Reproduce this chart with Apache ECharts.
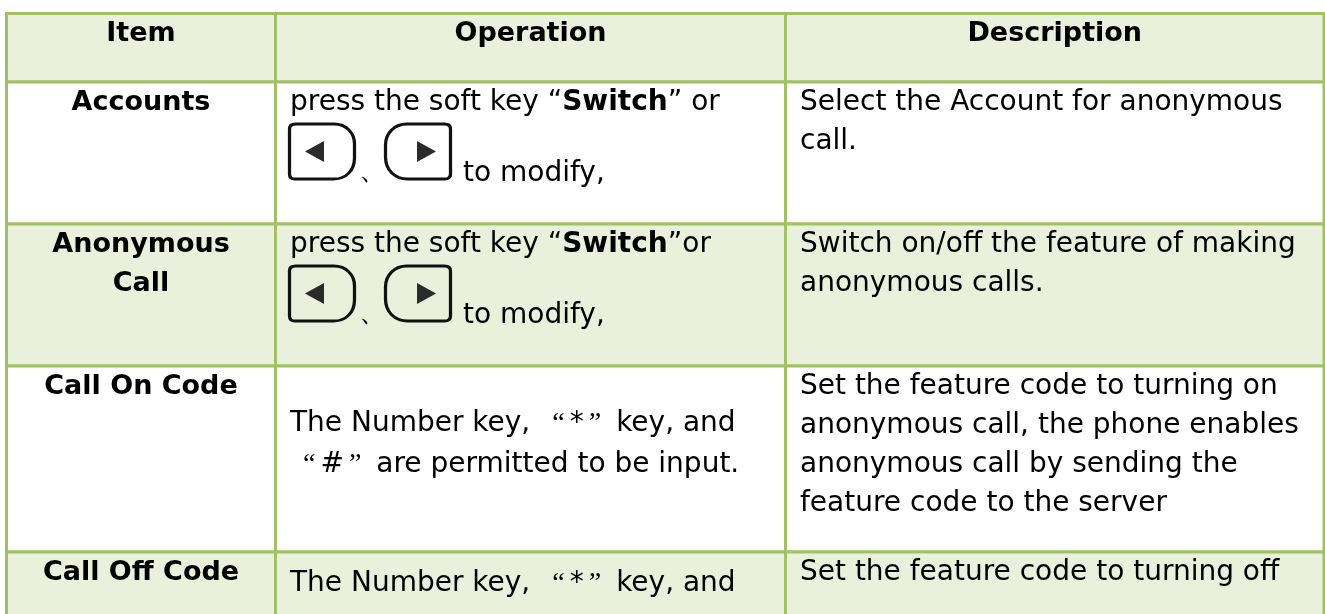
<!DOCTYPE html>
<html>
<head>
<meta charset="utf-8">
<style>
html,body{margin:0;padding:0;background:#fff;}
#main{width:1325px;height:614px;}
</style>
<script src="https://cdn.jsdelivr.net/npm/echarts@6/dist/echarts.min.js"></script>
</head>
<body>
<div id="main"></div>
<script>
// table grid
var columnEdges = [6.5, 275.5, 785.5, 1324];
var rowEdges = [13.5, 82, 224, 366, 552, 640];
var shadedRows = [0, 2, 4];

var headers = ['Item', 'Operation', 'Description'];
var items = [['Accounts'], ['Anonymous', 'Call'], ['Call On Code'], ['Call Off Code']];
var operations = [
    ['press the soft key “{b|Switch}” or'],
    ['press the soft key “{b|Switch}”or'],
    ['The Number key,{q1|“}*{q2|”}key, and', '{q3|“}#{q2|”}are permitted to be input.'],
    ['The Number key,{q1|“}*{q2|”}key, and']
];
var descriptions = [
    ['Select the Account for anonymous', 'call.'],
    ['Switch on/off the feature of making', 'anonymous calls.'],
    ['Set the feature code to turning on', 'anonymous call, the phone enables', 'anonymous call by sending the', 'feature code to the server'],
    ['Set the feature code to turning off']
];
var keyRows = [0, 1];
var keyNote = 'to modify,';

var borderColor = '#A2C164';
var shadeColor = '#E9F0DC';
var fontFamily = '"DejaVu Sans", Verdana, sans-serif';
var fontSize = 28;
var boldSize = 27;

var leftKey = 'path://M7 0H44C56 0 64 9 64 20V34C64 46 56 55 44 55H6Q1 55 1 50V5Q1 0 7 0Z';
var rightKey = 'path://M58 0H21C9 0 0 9 0 21V33C0 46 9 55 22 55H58Q64 55 64 50V5Q64 0 58 0Z';
var leftArrow = 'path://M19 0V21L0 10.5Z';
var rightArrow = 'path://M0 0V21L18 10.5Z';

// text rows: x, y, text, align, bold
var textRows = [];
function addCell(lines, x, top, offsets, align, bold) {
    lines.forEach(function (line, i) {
        textRows.push([x, top + offsets[i], line, align, bold]);
    });
}
var itemX = (columnEdges[0] + columnEdges[1]) / 2;
var opCenter = (columnEdges[1] + columnEdges[2]) / 2;
var descCenter = (columnEdges[2] + columnEdges[3]) / 2;
var opX = columnEdges[1] + 14.5;
var descX = columnEdges[2] + 14.5;
var pitch = [21, 60, 99, 138];
var opOffsets = [[21], [21], [58, 99], [32]];

addCell([headers[0]], itemX, rowEdges[0], [20.5], 'center', true);
addCell([headers[1]], opCenter, rowEdges[0], [20.5], 'center', true);
addCell([headers[2]], descCenter, rowEdges[0], [20.5], 'center', true);
items.forEach(function (lines, r) {
    addCell(lines, itemX, rowEdges[r + 1], pitch, 'center', true);
    addCell(operations[r], opX, rowEdges[r + 1], opOffsets[r], 'left', false);
    addCell(descriptions[r], descX, rowEdges[r + 1], pitch, 'left', false);
});
keyRows.forEach(function (r) {
    textRows.push([opX + 173, rowEdges[r + 1] + 92, keyNote, 'left', false]);
    textRows.push([opX + 69, rowEdges[r + 1] + 90, '、', 'left', false]);
});

var keyPoints = [], arrowPoints = [];
keyRows.forEach(function (r) {
    var y = rowEdges[r + 1] + 69.5;
    keyPoints.push({ value: [opX + 32, y], symbol: leftKey });
    keyPoints.push({ value: [opX + 128, y], symbol: rightKey });
    arrowPoints.push({ value: [opX + 24.5, y], symbol: leftArrow });
    arrowPoints.push({ value: [opX + 136.5, y], symbol: rightArrow });
});

var cells = [];
rowEdges.slice(0, -1).forEach(function (t, r) {
    columnEdges.slice(0, -1).forEach(function (l, c) {
        cells.push([c, r]);
    });
});

function renderCell(params, api) {
    var c = api.value(0), r = api.value(1);
    var p0 = api.coord([columnEdges[c], rowEdges[r]]);
    var p1 = api.coord([columnEdges[c + 1], rowEdges[r + 1]]);
    return {
        type: 'rect',
        shape: { x: p0[0], y: p0[1], width: p1[0] - p0[0], height: p1[1] - p0[1] },
        style: { fill: shadedRows.indexOf(r) >= 0 ? shadeColor : '#fff', stroke: borderColor, lineWidth: 3 }
    };
}

function quoteStyle(padding) {
    return { fontSize: fontSize, fontFamily: '"Liberation Serif"', fill: '#000', padding: padding };
}

function renderText(params, api) {
    var row = textRows[params.dataIndex];
    var p = api.coord([row[0], row[1]]);
    return {
        type: 'text',
        x: p[0],
        y: p[1],
        style: {
            text: row[2],
            align: row[3],
            verticalAlign: 'middle',
            fill: '#000',
            font: (row[4] ? 'bold ' + boldSize : fontSize) + 'px ' + fontFamily,
            rich: {
                b: { fontWeight: 'bold', fontSize: fontSize, fontFamily: fontFamily, fill: '#000' },
                q1: quoteStyle([0, 5, 0, 22]),
                q2: quoteStyle([0, 15, 0, 5]),
                q3: quoteStyle([0, 5, 0, 13])
            }
        }
    };
}

var myChart = echarts.init(document.getElementById('main'));
myChart.setOption({
    animation: false,
    grid: { left: 0, right: 0, top: 0, bottom: 0 },
    xAxis: { type: 'value', min: 0, max: 1325, show: false },
    yAxis: { type: 'value', min: 0, max: 614, inverse: true, show: false },
    series: [
        { type: 'custom', data: cells, renderItem: renderCell, clip: false, silent: true, z: 1 },
        {
            type: 'scatter', data: keyPoints, symbolSize: [65, 55], silent: true, z: 2,
            itemStyle: { color: 'transparent', borderColor: '#111', borderWidth: 3, opacity: 1 }
        },
        {
            type: 'scatter', data: arrowPoints, symbolSize: [19, 21], silent: true, z: 2,
            itemStyle: { color: '#2b2b2b', opacity: 1 }
        },
        {
            type: 'custom', data: textRows.map(function (d, i) { return [i]; }),
            renderItem: renderText, silent: true, z: 3,
            encode: { x: -1, y: -1 }
        }
    ]
});
</script>
</body>
</html>
